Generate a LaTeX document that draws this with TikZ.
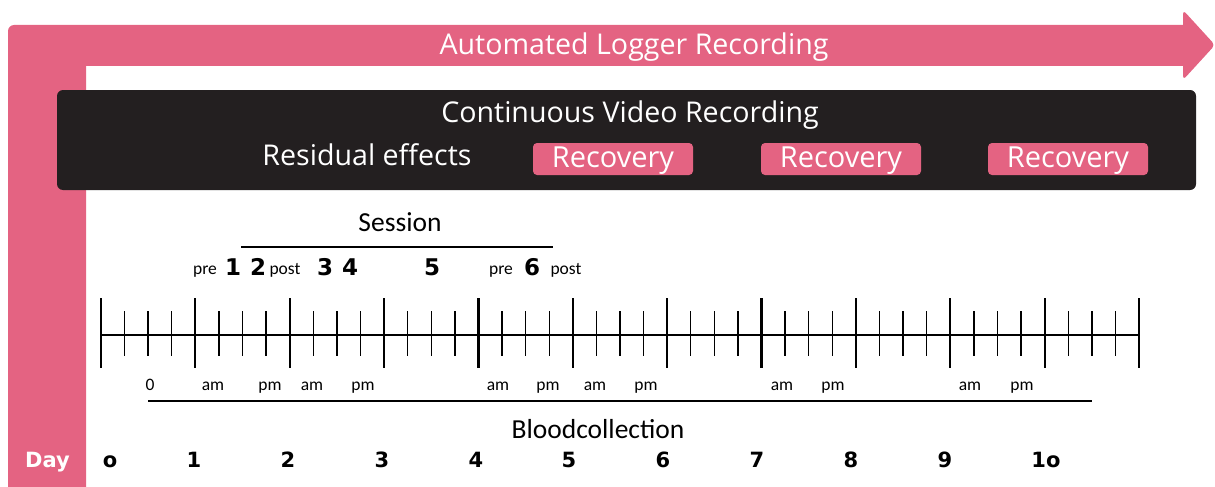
\documentclass[tikz,border=0pt]{standalone}
\usepackage{fontspec}
\setmainfont{Open Sans}
\newfontfamily\labelfont{Carlito}
\newfontfamily\numfont{DejaVu Sans}
\definecolor{logpink}{HTML}{E46382}
\definecolor{panel}{HTML}{231F20}
\tikzset{
  every node/.style={inner sep=0pt},
  bigtext/.style={anchor=base, text=white, font=\fontsize{28.6}{30}\selectfont},
  recbox/.style={fill=logpink, rounded corners=4pt, minimum width=160pt,
    minimum height=32pt, text height=20pt, text depth=3pt, text=white,
    font=\fontsize{29}{30}\selectfont},
  midtext/.style={font=\labelfont\fontsize{27.5}{29}\selectfont},
  smalltext/.style={anchor=base, font=\labelfont\fontsize{17.5}{19}\selectfont},
  sessnum/.style={anchor=base, font=\numfont\bfseries\fontsize{23}{25}\selectfont},
  daynum/.style={anchor=base, font=\numfont\bfseries\fontsize{21}{22}\selectfont},
  majortick/.style={line width=2.2pt},
  minortick/.style={line width=1.4pt},
  spanline/.style={line width=1.6pt},
}
\begin{document}
\begin{tikzpicture}[x=1pt,y=-1pt]
\useasboundingbox (0,0) rectangle (1215,487);
\clip (0,0) rectangle (1215,487);

% L-shaped logger arrow
\fill[logpink] (8,500) [rounded corners=6pt] -- (8,25) [sharp corners] -- (1183,25)
  [rounded corners=4pt] -- (1183,10) -- (1215,45) -- (1183,80) [sharp corners]
  -- (1183,66) -- (86,66) -- (86,500) -- cycle;
\node[bigtext] (logger) at (634,55) {Automated Logger Recording};

% video panel
\fill[panel, rounded corners=6pt] (57,90) rectangle (1196,190);
\node[bigtext] (video) at (630,122) {Continuous Video Recording};
\node[bigtext] (resid) at (367,165) {Residual effects};
\node[recbox] (rec1) at (613,159) {Recovery};
\node[recbox] (rec2) at (841,159) {Recovery};
\node[recbox] (rec3) at (1068,159) {Recovery};

% sessions
\node[midtext] (session) at (400,222) {Session};
\draw[spanline] (241,247) -- (553,247);
\node[smalltext] (pre1) at (205,274) {pre};
\node[sessnum] (s1) at (233,275) {1};
\node[sessnum] (s2) at (258,275) {2};
\node[smalltext] (post1) at (285,274) {post};
\node[sessnum] (s3) at (325,275) {3};
\node[sessnum] (s4) at (350,275) {4};
\node[sessnum] (s5) at (432,275) {5};
\node[smalltext] (pre6) at (501,274) {pre};
\node[sessnum] (s6) at (532,275) {6};
\node[smalltext] (post6) at (566,274) {post};

% time axis
\draw[majortick] (101,335) -- (1139,335);
\foreach \i in {0,...,11} {
  \draw[majortick] ({101+\i*94.364},298) -- ({101+\i*94.364},368);
}
\foreach \i in {0,...,10} {
  \foreach \j in {1,2,3} {
    \draw[minortick] ({101+\i*94.364+\j*23.591},311) -- ({101+\i*94.364+\j*23.591},356);
  }
}

% half-day labels
\node[smalltext] (t0) at (150,390) {0};
\foreach \x/\t [count=\k] in {213/am,270/pm,312/am,363/pm,498/am,548/pm,595/am,646/pm,
  782/am,833/pm,970/am,1022/pm} {
  \node[smalltext] (h\k) at (\x,390) {\t};
}

% blood collection
\draw[spanline] (148,401) -- (1092,401);
\node[midtext] (blood) at (598,429) {Bloodcollection};

% day numbers
\node[daynum, text=white] (day) at (47.5,467) {Day};
\foreach \x/\t [count=\k] in {110/o,194/1,288/2,382/3,476/4,569/5,663/6,757/7,851/8,945/9,1046/1o} {
  \node[daynum] (d\k) at (\x,467) {\t};
}
\end{tikzpicture}
\end{document}
